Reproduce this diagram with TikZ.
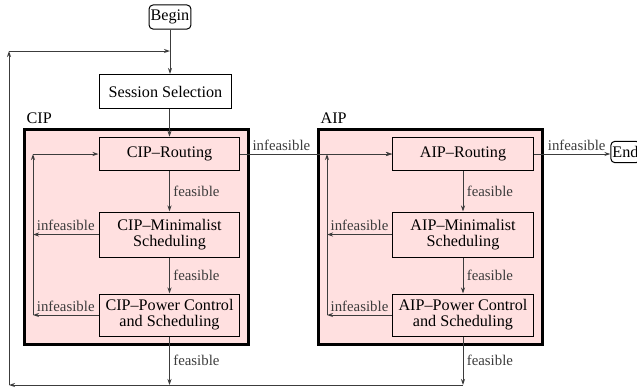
\documentclass[tikz,border=0pt]{standalone}
\usepackage{fontspec}
\setmainfont{Liberation Serif}
\usetikzlibrary{calc, arrows.meta}
\definecolor{fondoRosa}{RGB}{255, 224, 224}
\definecolor{lineaGris}{RGB}{60, 60, 60}

\begin{document}
\begin{tikzpicture}[
    x=0.6pt, y=-0.6pt,
    conn/.style={-{Stealth[length=3.6pt, width=2.4pt]}, lineaGris, line width=0.6pt},
    caja/.style={draw=black, line width=0.6pt, fill=fondoRosa, minimum width=84.6pt, inner sep=1pt, align=center, font=\fontsize{9.7}{9.6}\selectfont},
    marco/.style={draw=black, line width=1.8pt, fill=fondoRosa, minimum width=134.4pt, minimum height=129pt},
    term/.style={draw=black, line width=0.6pt, rounded corners=2.5pt, inner xsep=1pt, inner ysep=3pt, font=\fontsize{9.7}{9.6}\selectfont},
    grupo/.style={anchor=south west, inner sep=2pt, font=\fontsize{9.7}{9.6}\selectfont},
    etiq/.style={font=\fontsize{8.9}{9}\selectfont, inner sep=2pt}
]
    \useasboundingbox (0,0) rectangle (637,391);

    % --- INICIO Y SELECCION ---
    \node[term] (begin) at (170, 17) {Begin};
    \node[caja, fill=white, minimum width=79.8pt, minimum height=20.4pt] (sess) at (165.5, 91.5) {Session Selection};

    % --- MARCOS CIP / AIP ---
    \node[marco] (cipf) at (136.5, 236.5) {};
    \node[marco] (aipf) at (430.5, 236.5) {};
    \node[grupo] at (cipf.north west) {CIP};
    \node[grupo] at (aipf.north west) {AIP};

    % --- CAJAS CIP ---
    \node[caja, minimum height=20.1pt] (cipr) at (169.5, 154) {CIP--Routing};
    \node[caja, minimum height=27pt] (cipm) at (169.5, 234.5) {CIP--Minimalist\\Scheduling};
    \node[caja, minimum height=25.2pt] (cipp) at (169.5, 315) {CIP--Power Control\\and Scheduling};

    % --- CAJAS AIP ---
    \node[caja, minimum height=20.1pt] (aipr) at (463, 154) {AIP--Routing};
    \node[caja, minimum height=27pt] (aipm) at (463, 234.5) {AIP--Minimalist\\Scheduling};
    \node[caja, minimum height=25.2pt] (aipp) at (463, 315) {AIP--Power Control\\and Scheduling};

    \node[term] (endn) at (625.5, 152) {End};

    % --- PUNTOS DE RETORNO ---
    \coordinate (cipa) at (33, 154);
    \coordinate (aipa) at (327, 154);
    \coordinate (tl) at (9, 51);
    \coordinate (bl) at (9, 385);

    % --- FLUJO PRINCIPAL ---
    \draw[conn] (begin) -- (begin |- sess.north);
    \draw[conn] (cipr.north |- sess.south) -- (cipr.north);
    \draw[conn] (cipr) -- node[etiq, right] {feasible} (cipm);
    \draw[conn] (cipm) -- node[etiq, right] {feasible} (cipp);
    \draw[conn] (aipr) -- node[etiq, right] {feasible} (aipm);
    \draw[conn] (aipm) -- node[etiq, right] {feasible} (aipp);
    \draw[conn] (cipr.east) -- node[etiq, above, pos=0.27] {infeasible} (aipr.west);
    \draw[conn] (aipr.east) -- node[etiq, above, pos=0.56] {infeasible} (aipr.east -| endn.west);

    % --- LAZOS INTERNOS ---
    \draw[conn] (cipm.west) -- node[etiq, above] {infeasible} (cipm.west -| cipa);
    \draw[conn] (cipp.west) -- node[etiq, above] {infeasible} (cipp.west -| cipa);
    \draw[conn] (cipp.west -| cipa) -- (cipa);
    \draw[conn] (cipa) -- (cipr.west);
    \draw[conn] (aipm.west) -- node[etiq, above] {infeasible} (aipm.west -| aipa);
    \draw[conn] (aipp.west) -- node[etiq, above] {infeasible} (aipp.west -| aipa);
    \draw[conn] (aipp.west -| aipa) -- (aipa);
    \draw[conn] (aipa) -- (aipr.west);

    % --- LAZO EXTERNO ---
    \draw[conn] (cipp.south) -- node[etiq, right] {feasible} (cipp.south |- bl);
    \draw[conn] (aipp.south) -- node[etiq, right] {feasible} (aipp.south |- bl);
    \draw[conn] (aipp.south |- bl) -- (bl);
    \draw[conn] (bl) -- (tl);
    \draw[conn] (tl) -- (tl -| begin);

\end{tikzpicture}
\end{document}
